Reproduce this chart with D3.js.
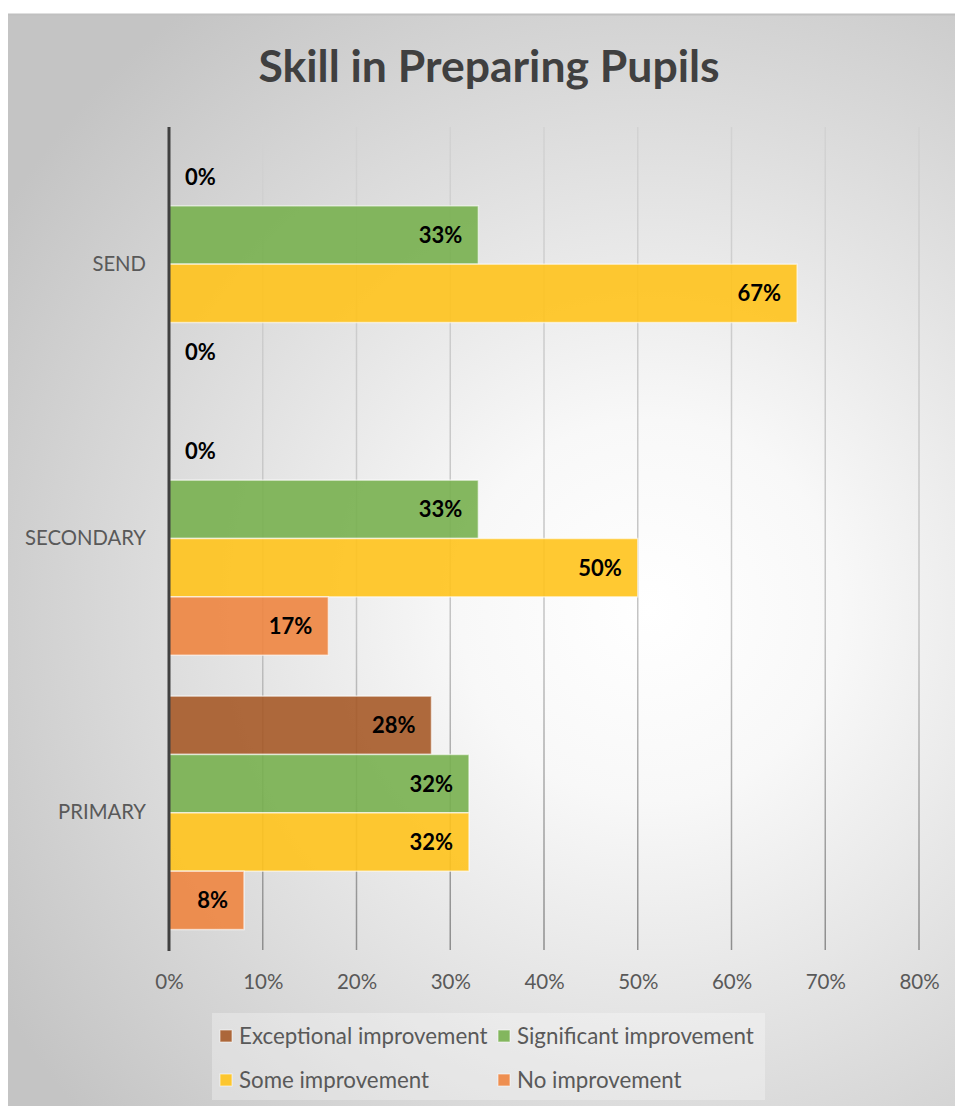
<!DOCTYPE html>
<html>
<head>
<meta charset="utf-8">
<script src="https://cdn.jsdelivr.net/npm/d3@7"></script>
<style>
  html, body { margin: 0; padding: 0; background: #ffffff; }
  svg { display: block; font-family: Lato, "Open Sans", sans-serif; }
</style>
</head>
<body>
<svg id="chart" width="955" height="1106"></svg>
<script>
// Categories, top to bottom
const categories = ["SEND", "SECONDARY", "PRIMARY"];
// Series, in drawing order within each group
const seriesNames = ["Exceptional improvement", "Significant improvement", "Some improvement", "No improvement"];
const seriesColors = ["#A65A28", "#78B04F", "#FFC31C", "#EE8540"];
// Share of responses per category (fractions)
const exceptional = [0.00, 0.00, 0.28];
const significant = [0.33, 0.33, 0.32];
const some        = [0.67, 0.50, 0.32];
const none        = [0.00, 0.17, 0.08];
const tickValues  = [0, 0.1, 0.2, 0.3, 0.4, 0.5, 0.6, 0.7, 0.8];

const seriesValues = [exceptional, significant, some, none];

const svg = d3.select("#chart");
const defs = svg.append("defs");

// Soft radial backdrop
const bg = defs.append("radialGradient").attr("id", "bgGrad")
  .attr("gradientUnits", "userSpaceOnUse")
  .attr("cx", 650).attr("cy", 610).attr("r", 760);
bg.append("stop").attr("offset", "0").attr("stop-color", "#ffffff");
bg.append("stop").attr("offset", "0.25").attr("stop-color", "#f8f8f8");
bg.append("stop").attr("offset", "1").attr("stop-color", "#c4c4c4");

// Gridlines darken toward the base
const gridGrad = defs.append("linearGradient").attr("id", "gridGrad")
  .attr("gradientUnits", "userSpaceOnUse")
  .attr("x1", 0).attr("y1", 127).attr("x2", 0).attr("y2", 950);
gridGrad.append("stop").attr("offset", "0").attr("stop-color", "#d2d2d2");
gridGrad.append("stop").attr("offset", "0.6").attr("stop-color", "#c4c4c4");
gridGrad.append("stop").attr("offset", "1").attr("stop-color", "#8e8e8e");

svg.append("rect")
  .attr("x", 8).attr("y", 14).attr("width", 955 - 8).attr("height", 1106 - 14)
  .attr("fill", "url(#bgGrad)");
svg.append("line")
  .attr("x1", 8).attr("x2", 955).attr("y1", 14.5).attr("y2", 14.5)
  .attr("stroke", "#c0c0c0").attr("stroke-width", 2);

// Title
svg.append("text")
  .attr("x", 489).attr("y", 82)
  .attr("text-anchor", "middle")
  .attr("font-size", 44.5).attr("font-weight", 700)
  .attr("fill", "#404040")
  .text("Skill in Preparing Pupils");

// Scales
const x = d3.scaleLinear().domain([0, 0.8]).range([169, 919]);
const y = d3.scaleBand().domain(categories).range([127, 950]).padding(0);
const yInner = d3.scaleBand().domain(seriesNames)
  .range([0, y.bandwidth()]).paddingInner(0).paddingOuter(0.35);

// Vertical gridlines
svg.append("g").selectAll("line")
  .data(tickValues.slice(1))
  .join("line")
  .attr("x1", d => x(d)).attr("x2", d => x(d))
  .attr("y1", 127).attr("y2", 950)
  .attr("stroke", "url(#gridGrad)").attr("stroke-width", 1.5);

// Bars
const rows = [];
categories.forEach((c, ci) => {
  seriesNames.forEach((s, si) => {
    rows.push({ cat: c, series: s, color: seriesColors[si], value: seriesValues[si][ci] });
  });
});

const barG = svg.append("g");
barG.selectAll("rect")
  .data(rows.filter(d => d.value > 0))
  .join("rect")
  .attr("x", x(0))
  .attr("y", d => y(d.cat) + yInner(d.series))
  .attr("width", d => x(d.value) - x(0))
  .attr("height", yInner.bandwidth())
  .attr("fill", d => d.color)
  .attr("fill-opacity", 0.9)
  .attr("stroke", "#ffffff").attr("stroke-opacity", 0.6).attr("stroke-width", 1.5);

// Value labels at the inner end of each bar
barG.selectAll("text")
  .data(rows)
  .join("text")
  .attr("x", d => d.value > 0 ? x(d.value) - 16 : x(0) + 16)
  .attr("y", d => y(d.cat) + yInner(d.series) + yInner.bandwidth() / 2)
  .attr("dy", "0.36em")
  .attr("text-anchor", d => d.value > 0 ? "end" : "start")
  .attr("font-size", 22).attr("font-weight", 700)
  .attr("fill", "#000000")
  .text(d => d3.format(".0%")(d.value));

// Value axis tick labels
const xAxis = d3.axisBottom(x).tickValues(tickValues).tickFormat(d3.format(".0%")).tickSize(0).tickPadding(0);
const xg = svg.append("g").attr("transform", "translate(0,974)").call(xAxis);
xg.select(".domain").remove();
xg.selectAll("text")
  .attr("font-size", 20.5).attr("fill", "#595959")
  .attr("font-family", "Lato, 'Open Sans', sans-serif");

// Category axis
const yAxis = d3.axisLeft(y).tickSize(0).tickPadding(23);
const yg = svg.append("g").attr("transform", `translate(${x(0)},0)`).call(yAxis);
yg.select(".domain").remove();
yg.selectAll("text")
  .attr("font-size", 20.3).attr("fill", "#595959")
  .attr("font-family", "Lato, 'Open Sans', sans-serif");

svg.append("line")
  .attr("x1", x(0)).attr("x2", x(0)).attr("y1", 127).attr("y2", 951)
  .attr("stroke", "#404040").attr("stroke-width", 3);

// Legend
const legend = svg.append("g");
legend.append("rect")
  .attr("x", 212).attr("y", 1013).attr("width", 553).attr("height", 87)
  .attr("fill", "#ffffff").attr("fill-opacity", 0.3);
const legendPos = [
  { x: 220, y: 1036 }, { x: 498, y: 1036 },
  { x: 220, y: 1080 }, { x: 498, y: 1080 }
];
const items = legend.selectAll("g.item")
  .data(seriesNames.map((s, i) => ({ name: s, color: seriesColors[i], pos: legendPos[i] })))
  .join("g").attr("class", "item")
  .attr("transform", d => `translate(${d.pos.x},${d.pos.y})`);
items.append("rect")
  .attr("x", 0).attr("y", -6).attr("width", 12).attr("height", 12)
  .attr("fill", d => d.color).attr("fill-opacity", 0.9)
  .attr("stroke", "#ffffff").attr("stroke-opacity", 0.6).attr("stroke-width", 1);
items.append("text")
  .attr("x", 19).attr("y", 0).attr("dy", "0.36em")
  .attr("font-size", 22.3).attr("fill", "#595959")
  .text(d => d.name);
</script>
</body>
</html>
